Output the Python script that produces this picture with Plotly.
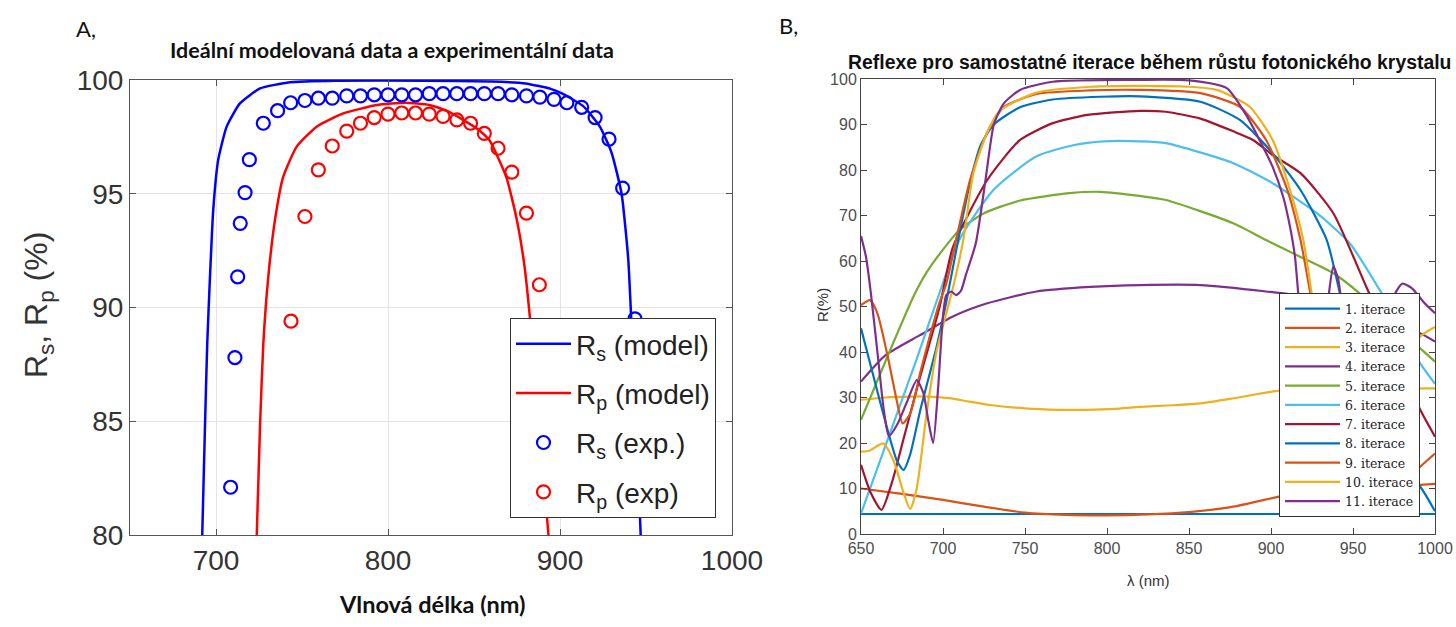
import plotly.graph_objects as go

# ---------------- Panel A data ----------------
rs_model_wl = [692.0, 693.6, 694.9, 696.5, 698.4, 701.3, 706.2, 713.9, 725.6, 743.0, 770.0, 820.0, 860.0, 880.0, 895.0, 901.4, 913.5, 923.2, 930.0, 935.8, 939.7, 941.6, 944.5, 946.9]
rs_model_r = [80.0, 84.8, 88.4, 91.35, 94.3, 96.5, 97.95, 98.97, 99.63, 99.9, 99.97, 99.97, 99.93, 99.85, 99.6, 99.4, 98.85, 97.95, 96.8, 95.0, 92.1, 89.2, 84.8, 80.0]

rp_model_wl = [723.7, 725.6, 727.5, 730.4, 734.3, 739.1, 746.9, 758.5, 774.0, 793.4, 810.0, 824.0, 834.0, 843.6, 852.0, 859.0, 868.7, 874.5, 879.4, 882.6, 886.5, 890.4, 893.3]
rp_model_r = [80.0, 84.8, 88.4, 91.35, 93.85, 95.75, 97.07, 97.95, 98.53, 98.9, 99.0, 98.9, 98.65, 98.25, 97.85, 97.35, 95.75, 94.0, 91.8, 89.5, 86.2, 82.6, 80.0]

rs_exp_wl = [708.5, 711.0, 712.6, 714.1, 716.9, 719.4, 727.5, 735.8, 743.4, 751.7, 759.5, 767.6, 776.0, 784.0, 792.0, 800.0, 808.0, 816.0, 824.0, 832.0, 840.0, 848.0, 856.0, 864.0, 872.0, 880.5, 888.3, 896.5, 904.0, 912.6, 920.4, 928.5, 936.4, 943.6]
rs_exp_r = [82.1, 87.8, 91.35, 93.7, 95.05, 96.5, 98.1, 98.65, 99.0, 99.1, 99.2, 99.2, 99.3, 99.3, 99.35, 99.35, 99.35, 99.35, 99.4, 99.4, 99.4, 99.4, 99.4, 99.4, 99.35, 99.3, 99.25, 99.15, 99.0, 98.8, 98.35, 97.4, 95.25, 89.5]

rp_exp_wl = [743.6, 751.7, 759.5, 767.6, 776.0, 784.0, 792.0, 800.0, 808.0, 816.0, 824.0, 832.0, 840.0, 848.0, 856.0, 864.0, 872.0, 880.5, 888.0]
rp_exp_r = [89.4, 94.0, 96.05, 97.1, 97.75, 98.1, 98.35, 98.5, 98.55, 98.55, 98.5, 98.4, 98.25, 98.1, 97.65, 97.0, 95.95, 94.15, 91.0]

a_xticks = [700, 800, 900, 1000]
a_yticks = [80, 85, 90, 95, 100]

# ---------------- Panel B data ----------------
it1_wl = [650, 700, 750, 800, 850, 900, 950, 1000]
it1_r = [4.4, 4.4, 4.4, 4.4, 4.4, 4.4, 4.4, 4.4]

it2_wl = [650, 675, 700, 725, 750, 775, 800, 825, 850, 877, 905, 930, 960, 991, 1000]
it2_r = [10.0, 8.8, 7.5, 6.0, 4.7, 4.2, 4.1, 4.3, 4.8, 6.0, 8.2, 9.3, 10.2, 10.8, 11.0]

it3_wl = [650, 665, 680, 692, 705, 716, 730, 750, 770, 787, 805, 818, 840, 857, 880, 905, 930, 960, 1000]
it3_r = [29.5, 30.0, 30.2, 30.2, 29.8, 29.1, 28.3, 27.6, 27.3, 27.3, 27.5, 27.9, 28.3, 28.7, 30.0, 31.5, 31.8, 31.9, 32.0]

it4_wl = [650, 665, 686, 706, 727, 757, 790, 820, 857, 897, 914, 930, 950, 970, 990, 1000]
it4_r = [33.5, 39.3, 43.7, 47.8, 50.7, 53.3, 54.3, 54.7, 54.7, 53.3, 52.5, 50.5, 48.3, 46.3, 44.3, 42.3]

it5_wl = [650, 666, 682, 690, 700, 710, 725, 747, 777, 796, 820, 836, 877, 897, 918, 938, 954, 970, 991, 1000]
it5_r = [25.1, 38.9, 52.2, 57.5, 62.5, 66.8, 70.5, 73.3, 74.9, 75.2, 74.3, 73.4, 68.3, 64.6, 60.9, 57.3, 52.9, 47.5, 40.8, 37.9]

it6_wl = [650, 660, 672, 684, 695, 710, 731, 757, 780, 798, 820, 836, 877, 901, 928, 948, 967, 980, 991, 1000]
it6_r = [4.5, 14.5, 26.5, 38.5, 50.0, 64.7, 75.7, 83.0, 85.5, 86.3, 86.3, 85.9, 81.5, 77.1, 70.5, 63.9, 53.2, 45.0, 37.5, 33.0]

it7_wl = [650, 656, 662.5, 669, 676, 686, 698, 706, 727, 747, 767, 788, 820, 836, 857, 877, 889, 901, 918, 938, 958, 970, 980, 991, 1000]
it7_r = [15.2, 9.0, 5.3, 11.5, 21.0, 34.5, 50.0, 63.0, 77.8, 86.6, 90.3, 92.1, 93.0, 92.8, 91.3, 88.5, 86.6, 83.3, 79.3, 70.5, 54.4, 45.0, 36.5, 27.3, 21.4]

it8_wl = [650, 657, 665, 672, 676, 680, 686, 696, 702, 710, 717, 723, 731, 747, 767, 796, 820, 857, 881, 901, 918, 934, 942, 950, 960, 970, 980, 991, 1000]
it8_r = [45.2, 35.5, 24.5, 16.0, 14.1, 17.5, 27.0, 41.0, 51.0, 66.0, 78.0, 85.5, 90.0, 93.8, 95.5, 96.1, 96.2, 95.0, 91.0, 83.7, 75.6, 64.6, 52.9, 40.0, 27.0, 19.0, 14.0, 10.4, 5.0]

it9_wl = [650, 655.5, 660, 666, 672, 675.4, 680, 686, 692, 698, 702, 708, 716.5, 726.6, 737, 757, 790, 820, 857, 881, 897, 910, 918, 924, 930, 940, 950, 960, 970, 980, 991, 1000]
it9_r = [50.3, 51.4, 48.5, 39.5, 29.0, 24.3, 26.5, 35.3, 43.5, 51.0, 55.0, 64.7, 77.8, 88.0, 93.8, 96.7, 97.5, 97.6, 96.9, 93.9, 86.6, 75.6, 64.6, 52.9, 42.0, 27.0, 17.0, 11.5, 9.5, 10.5, 14.8, 17.7]

it10_wl = [650, 655, 663.6, 670, 676, 680, 684, 690, 696, 702, 706, 712.4, 718.5, 726.6, 734.8, 757, 790, 820, 850, 867, 887, 901, 911.6, 919.7, 924.8, 932, 940, 950, 960, 970, 980, 990, 1000]
it10_r = [18.1, 18.3, 19.9, 16.0, 9.0, 5.5, 10.0, 26.5, 40.0, 48.5, 54.0, 64.7, 79.3, 88.0, 93.1, 97.0, 98.3, 98.5, 98.3, 97.6, 93.9, 86.6, 75.6, 64.6, 52.9, 38.0, 24.0, 13.0, 10.0, 16.0, 28.0, 43.0, 45.5]

it11_wl = [650, 653, 656, 660, 664, 667, 672, 678, 684, 688, 691, 694, 697, 700, 702, 705, 708, 711, 714, 720, 726, 731, 737, 747, 767, 820, 850, 873, 885, 893, 901, 907.5, 911.6, 914.6, 916.6, 920, 925, 931, 935, 938, 941, 944, 950, 958, 966, 973, 980, 986, 993, 1000]
it11_r = [65.5, 61.0, 53.0, 40.0, 27.0, 21.5, 24.0, 29.0, 33.8, 31.0, 25.0, 20.0, 32.0, 48.0, 52.5, 53.3, 52.5, 53.5, 57.0, 63.9, 78.0, 90.0, 94.6, 97.6, 99.4, 99.8, 99.7, 98.0, 92.0, 86.6, 80.7, 74.0, 67.5, 61.0, 53.0, 42.0, 35.0, 40.0, 52.0, 58.8, 56.0, 48.0, 38.0, 36.0, 42.0, 51.0, 55.0, 54.0, 51.0, 48.5]

b_series = [
    ("1. iterace", it1_wl, it1_r),
    ("2. iterace", it2_wl, it2_r),
    ("3. iterace", it3_wl, it3_r),
    ("4. iterace", it4_wl, it4_r),
    ("5. iterace", it5_wl, it5_r),
    ("6. iterace", it6_wl, it6_r),
    ("7. iterace", it7_wl, it7_r),
    ("8. iterace", it8_wl, it8_r),
    ("9. iterace", it9_wl, it9_r),
    ("10. iterace", it10_wl, it10_r),
    ("11. iterace", it11_wl, it11_r),
]
b_colors = ["#0072BD", "#D95319", "#EDB120", "#7E2F8E", "#77AC30", "#4DBEEE",
            "#A2142F", "#0072BD", "#D95319", "#EDB120", "#7E2F8E"]
b_xticks = [650, 700, 750, 800, 850, 900, 950, 1000]
b_yticks = [0, 10, 20, 30, 40, 50, 60, 70, 80, 90, 100]

# ---------------- Figure ----------------
W, H = 1456, 627


def px(x):
    return x / W


def py(y):
    return 1 - y / H


fig = go.Figure()

fig.add_trace(go.Scatter(x=rs_model_wl, y=rs_model_r, mode="lines", name="R<sub>s</sub> (model)",
                         line=dict(color="#0000FF", width=2.5, shape="spline", smoothing=0.5),
                         legendgroup="a1", xaxis="x", yaxis="y", legend="legend"))
fig.add_trace(go.Scatter(x=rp_model_wl, y=rp_model_r, mode="lines", name="R<sub>p</sub> (model)",
                         line=dict(color="#FF0000", width=2.5, shape="spline", smoothing=0.5),
                         legendgroup="a2", xaxis="x", yaxis="y", legend="legend"))
fig.add_trace(go.Scatter(x=rs_exp_wl, y=rs_exp_r, mode="markers", name="R<sub>s</sub> (exp.)",
                         marker=dict(symbol="circle-open", size=13, color="#0000FF", line=dict(width=2.2)),
                         legendgroup="a3", xaxis="x", yaxis="y", legend="legend"))
fig.add_trace(go.Scatter(x=rp_exp_wl, y=rp_exp_r, mode="markers", name="R<sub>p</sub> (exp)",
                         marker=dict(symbol="circle-open", size=13, color="#FF0000", line=dict(width=2.2)),
                         legendgroup="a4", xaxis="x", yaxis="y", legend="legend"))

for (name, wl, r), c in zip(b_series, b_colors):
    fig.add_trace(go.Scatter(x=wl, y=r, mode="lines", name=name,
                             line=dict(color=c, width=2.2, shape="spline", smoothing=0.6),
                             xaxis="x2", yaxis="y2", legend="legend2"))

axA = dict(showline=True, linecolor="#555555", linewidth=1, mirror="ticks", ticks="inside",
           ticklen=6, tickcolor="#555555", zeroline=False, showgrid=True, gridcolor="#e4e4e4",
           automargin=False,
           tickfont=dict(family="Liberation Sans, Arial", size=28, color="#333333"))
axB = dict(showline=True, linecolor="#444444", linewidth=1, mirror="ticks", ticks="inside",
           ticklen=6, tickcolor="#444444", zeroline=False, showgrid=False, automargin=False,
           tickfont=dict(family="Liberation Sans, Arial", size=16, color="#4d4d4d"))

fig.update_layout(
    width=W, height=H, margin=dict(l=0, r=0, t=0, b=0, autoexpand=False),
    paper_bgcolor="white", plot_bgcolor="white",
    xaxis=dict(axA, domain=[px(130), px(732)], range=[650, 1000], tickvals=a_xticks, anchor="y"),
    yaxis=dict(axA, domain=[py(535), py(80)], range=[80, 100], tickvals=a_yticks, anchor="x"),
    xaxis2=dict(axB, domain=[px(861), px(1435)], range=[650, 1000], tickvals=b_xticks, anchor="y2"),
    yaxis2=dict(axB, domain=[py(534), py(79)], range=[0, 100], tickvals=b_yticks, anchor="x2"),
    legend=dict(x=px(716), y=py(518), xanchor="right", yanchor="bottom", bgcolor="white",
                bordercolor="#333333", borderwidth=1, tracegroupgap=10, itemwidth=55,
                font=dict(family="Liberation Sans, Arial", size=28, color="#222222")),
    legend2=dict(x=px(1420), y=py(517), xanchor="right", yanchor="bottom", bgcolor="white",
                 bordercolor="#333333", borderwidth=1, tracegroupgap=0, itemwidth=55,
                 font=dict(family="DejaVu Serif, serif", size=12.5, color="#222222")),
    showlegend=True,
)

annots = [
    dict(text="A,", x=px(74), y=py(28), xanchor="left", yanchor="middle",
         font=dict(family="Lato, Liberation Sans", size=22, color="#111111")),
    dict(text="<b>Ideální modelovaná data a experimentální data</b>", x=px(392), y=py(50),
         xanchor="center", yanchor="middle", font=dict(family="Lato", size=21.5, color="#111111")),
    dict(text="<b>Vlnová délka (nm)</b>", x=px(432), y=py(604), xanchor="center", yanchor="middle",
         font=dict(family="Lato", size=23.5, color="#111111")),
    dict(text="R<sub>s</sub>, R<sub>p</sub> (%)", x=px(38), y=py(305), xanchor="center",
         yanchor="middle", textangle=-90,
         font=dict(family="Liberation Sans, Arial", size=32, color="#333333")),
    dict(text="B,", x=px(777), y=py(25), xanchor="left", yanchor="middle",
         font=dict(family="Lato, Liberation Sans", size=22, color="#111111")),
    dict(text="<b>Reflexe pro samostatné iterace během růstu fotonického krystalu</b>", x=px(1149),
         y=py(62), xanchor="center", yanchor="middle",
         font=dict(family="Liberation Sans, Arial", size=19.4, color="#111111")),
    dict(text="R(%)", x=px(822), y=py(305), xanchor="center", yanchor="middle", textangle=-90,
         font=dict(family="Liberation Sans, Arial", size=15, color="#333333")),
    dict(text="λ (nm)", x=px(1148), y=py(580), xanchor="center", yanchor="middle",
         font=dict(family="Liberation Sans, Arial", size=15, color="#333333")),
]
for a in annots:
    a.update(xref="paper", yref="paper", showarrow=False)
fig.update_layout(annotations=annots)

fig.write_html("out.html", config={"displayModeBar": False},
               post_script="document.body.style.margin='0';")
